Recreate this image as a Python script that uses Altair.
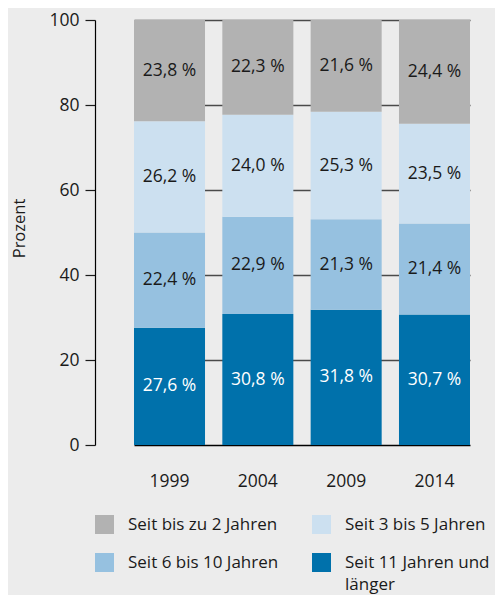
import altair as alt
import pandas as pd

years = ["1999", "2004", "2009", "2014"]
categories = [
    "Seit bis zu 2 Jahren",
    "Seit 3 bis 5 Jahren",
    "Seit 6 bis 10 Jahren",
    "Seit 11 Jahren und länger",
]
colors = ["#b2b2b2", "#cce0f0", "#96c1e0", "#0071ab"]
label_colors = ["#1a1a1a", "#1a1a1a", "#1a1a1a", "#ffffff"]
# values per category (top segment first), per year
v_2 = [23.8, 22.3, 21.6, 24.4]
v_3_5 = [26.2, 24.0, 25.3, 23.5]
v_6_10 = [22.4, 22.9, 21.3, 21.4]
v_11 = [27.6, 30.8, 31.8, 30.7]
y_ticks = [0, 20, 40, 60, 80, 100]

series = [v_2, v_3_5, v_6_10, v_11]
stack_order = [3, 2, 1, 0]  # bottom = 0

rows = []
for yi, yr in enumerate(years):
    base = 0.0
    for ci in sorted(range(4), key=lambda c: stack_order[c]):
        val = series[ci][yi]
        rows.append({
            "Jahr": yr,
            "Kategorie": categories[ci],
            "Wert": val,
            "y0": base,
            "y1": base + val,
            "mid": base + val / 2,
            "ord": stack_order[ci],
            "label": f"{val:.1f}".replace(".", ",") + " %",
            "lc": label_colors[ci],
        })
        base += val
df = pd.DataFrame(rows)

FONT = "Open Sans"

x_enc = alt.X("Jahr:N", sort=years, title=None,
              scale=alt.Scale(range=[39, 375], paddingInner=0.196, paddingOuter=0),
              axis=alt.Axis(domain=False, ticks=False, labelAngle=0, labelPadding=27,
                            labelFontSize=17.5, labelColor="#1a1a1a", labelFont=FONT))

bars = alt.Chart(df).mark_bar(stroke=None).encode(
    x=x_enc,
    y=alt.Y("y0:Q", scale=alt.Scale(domain=[0, 100], nice=False),
            title="Prozent",
            axis=alt.Axis(values=y_ticks, domain=True, domainColor="#000000",
                          domainWidth=1.2,
                          tickSize=10, tickColor="#1a1a1a", tickWidth=1.2,
                          grid=True,
                          gridColor={"condition": {"test": "datum.value === 0", "value": "#000000"},
                                     "value": "#4a4a4a"},
                          gridWidth=1.3,
                          labelFontSize=17.5, labelColor="#1a1a1a", labelFont=FONT,
                          labelPadding=6,
                          titleFont=FONT, titleFontSize=16.5, titleFontWeight="normal",
                          titleColor="#1a1a1a", titleX=-76, titleY=208,
                          titleAngle=270, titleBaseline="middle", titleAlign="center")),
    y2="y1:Q",
    color=alt.Color("Kategorie:N",
                    scale=alt.Scale(domain=categories, range=colors),
                    legend=alt.Legend(title=None, orient="none", legendX=0, legendY=495,
                                      columns=2, direction="horizontal",
                                      symbolType="square", symbolSize=361,
                                      symbolStrokeWidth=0, symbolOpacity=1,
                                      labelFont=FONT, labelFontSize=17,
                                      labelColor="#1a1a1a", labelOffset=14,
                                      labelLimit=300, rowPadding=19, columnPadding=33,
                                      labelExpr="datum.label == 'Seit 11 Jahren und länger' ? ['Seit 11 Jahren und', 'länger'] : datum.label",
                                      padding=0)),
    order=alt.Order("ord:Q"),
)

texts = alt.Chart(df).mark_text(font=FONT, fontSize=17.5, baseline="middle").encode(
    x=alt.X("Jahr:N", sort=years),
    y=alt.Y("mid:Q"),
    text="label:N",
    color=alt.Color("lc:N", scale=None, legend=None),
)

chart = alt.layer(bars, texts).properties(
    width=400, height=425,
    background="#ececec",
    padding={"left": 87, "top": 12, "right": 0, "bottom": 150},
    autosize=alt.AutoSizeParams(type="none"),
).configure(style={"guide-label": {"lineHeight": 22}}).configure_view(stroke=None)

chart.save("out.html", embed_options={"renderer": "svg", "actions": False})
